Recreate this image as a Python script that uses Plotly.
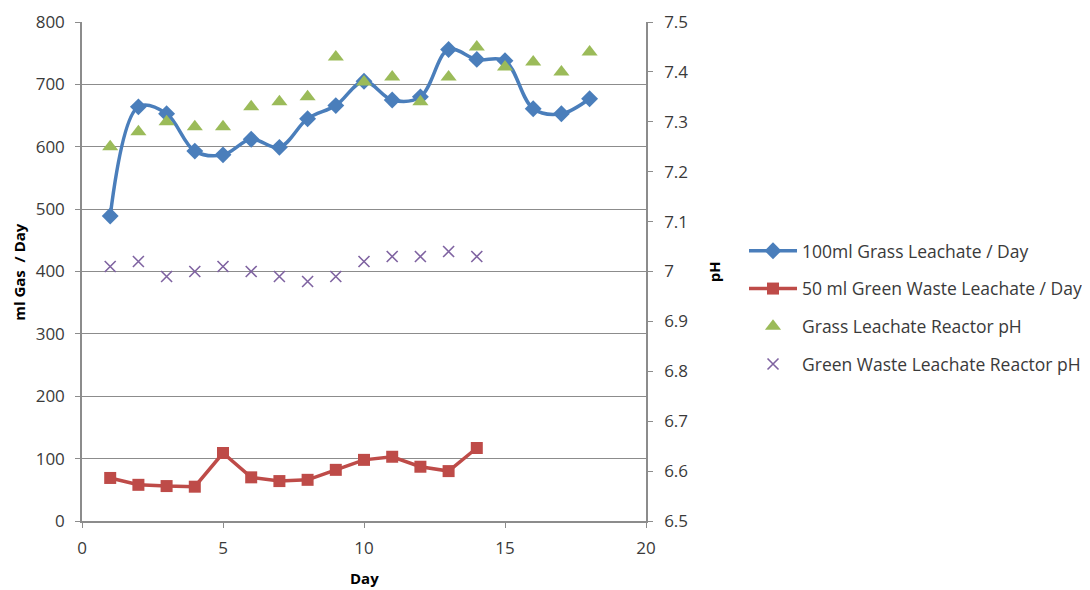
import plotly.graph_objects as go

days_gas_grass = list(range(1, 19))
gas_grass = [489, 664, 653, 593, 587, 612, 599, 645, 666, 705, 675, 680, 756, 740, 738, 661, 653, 677]

days_gas_green = list(range(1, 15))
gas_green = [69, 58, 56, 55, 109, 70, 64, 66, 82, 98, 103, 87, 80, 117]

days_ph_grass = list(range(1, 19))
ph_grass = [7.25, 7.28, 7.30, 7.29, 7.29, 7.33, 7.34, 7.35, 7.43, 7.38, 7.39, 7.34, 7.39, 7.45, 7.41, 7.42, 7.40, 7.44]

days_ph_green = list(range(1, 15))
ph_green = [7.01, 7.02, 6.99, 7.00, 7.01, 7.00, 6.99, 6.98, 6.99, 7.02, 7.03, 7.03, 7.04, 7.03]

names = ["100ml Grass Leachate / Day", "50 ml Green Waste Leachate / Day",
         "Grass Leachate Reactor pH", "Green Waste Leachate Reactor pH"]

FONT = "Open Sans"
TXT = "#3a3a3a"
GRID = "#8c8c8c"

fig = go.Figure()
fig.add_trace(go.Scatter(x=days_gas_grass, y=gas_grass, name=names[0], mode="lines+markers",
                         legendgroup="a",
                         line=dict(color="#4A7EBB", width=3.5, shape="spline", smoothing=1.0),
                         marker=dict(symbol="diamond", size=13, color="#4A7EBB")))
fig.add_trace(go.Scatter(x=days_gas_green, y=gas_green, name=names[1], mode="lines+markers",
                         legendgroup="b",
                         line=dict(color="#BE4B48", width=3.5),
                         marker=dict(symbol="square", size=12, color="#BE4B48")))
fig.add_trace(go.Scatter(x=days_ph_grass, y=ph_grass, name=names[2], mode="markers", yaxis="y2",
                         legendgroup="c",
                         marker=dict(symbol="triangle-up", size=14, color="#9BBB59")))
fig.add_trace(go.Scatter(x=days_ph_green, y=ph_green, name=names[3], mode="markers", yaxis="y2",
                         legendgroup="d",
                         marker=dict(symbol="x-thin", size=11, color="#7F63A1",
                                     line=dict(width=1.6, color="#7F63A1"))))

fig.update_layout(
    width=1090, height=590,
    margin=dict(l=74, r=451, t=14, b=77),
    paper_bgcolor="white", plot_bgcolor="white",
    font=dict(family=FONT, size=17, color=TXT),
    xaxis=dict(range=[0, 20], tickvals=[0, 5, 10, 15, 20], showgrid=False,
               showline=True, linecolor=GRID, linewidth=1.5, automargin=False,
               ticks="outside", ticklen=5, tickcolor=GRID, ticklabelstandoff=6,
               tickfont=dict(size=17, color=TXT), zeroline=False),
    yaxis=dict(range=[0, 800], tickvals=list(range(0, 801, 100)), showgrid=True,
               gridcolor=GRID, gridwidth=1.2, showline=True, linecolor=GRID, linewidth=1.5,
               automargin=False,
               ticks="outside", ticklen=5, tickcolor=GRID, ticklabelstandoff=7,
               tickfont=dict(size=17, color=TXT), zeroline=False),
    yaxis2=dict(range=[6.5, 7.5], tickvals=[6.5, 6.6, 6.7, 6.8, 6.9, 7.0, 7.1, 7.2, 7.3, 7.4, 7.5],
                ticktext=["6.5", "6.6", "6.7", "6.8", "6.9", "7", "7.1", "7.2", "7.3", "7.4", "7.5"],
                overlaying="y", side="right", showgrid=False, automargin=False,
                showline=True, linecolor=GRID, linewidth=1.5,
                ticks="outside", ticklen=5, tickcolor=GRID, ticklabelstandoff=8,
                tickfont=dict(size=17, color=TXT), zeroline=False),
    showlegend=True,
    legend=dict(x=1.1717, y=0.428, xanchor="left", yanchor="middle",
                traceorder="grouped", tracegroupgap=12, itemwidth=48,
                font=dict(family=FONT, size=17.5, color=TXT), bgcolor="rgba(0,0,0,0)"),
    annotations=[
        dict(text="<b>ml Gas  / Day</b>", x=-0.113, y=0.5, xref="paper", yref="paper",
             xanchor="center", yanchor="middle",
             textangle=-90, showarrow=False, font=dict(size=15, color="black")),
        dict(text="<b>pH</b>", x=1.120, y=0.5, xref="paper", yref="paper",
             xanchor="center", yanchor="middle",
             textangle=-90, showarrow=False, font=dict(size=15, color="black")),
        dict(text="<b>Day</b>", x=0.5, y=-0.114, xref="paper", yref="paper",
             xanchor="center", yanchor="middle",
             showarrow=False, font=dict(size=15, color="black")),
    ],
)

fig.write_html("out.html")
